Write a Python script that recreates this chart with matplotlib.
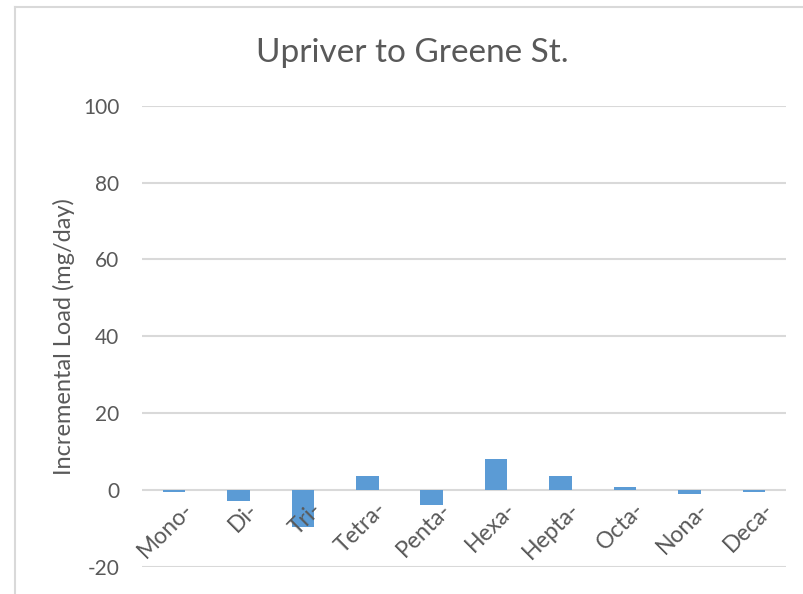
import matplotlib
matplotlib.use("Agg")
import matplotlib.pyplot as plt
from matplotlib.lines import Line2D

# ---------- data ----------
categories = ["Mono-", "Di-", "Tri-", "Tetra-", "Penta-", "Hexa-", "Hepta-", "Octa-", "Nona-", "Deca-"]
loads = [-0.6, -2.9, -9.6, 3.6, -3.9, 8.1, 3.6, 0.7, -1.0, -0.6]
y_ticks = [-20, 0, 20, 40, 60, 80, 100]

TEXT = "#595959"
GRID = "#D9D9D9"
BAR = "#5B9BD5"

plt.rcParams["font.family"] = ["Lato", "DejaVu Sans"]

fig = plt.figure(figsize=(8.04, 5.94), dpi=100)
ax = fig.add_axes([0.1763, 0.0455, 0.8013, 0.7765])

x = list(range(len(categories)))
ax.bar(x, loads, width=0.35, color=BAR, zorder=3)

ax.set_xlim(-0.5, len(categories) - 0.5)
ax.set_ylim(-20, 100)
ax.set_yticks(y_ticks)
ax.set_yticklabels([str(t) for t in y_ticks], fontsize=15, color=TEXT)
ax.tick_params(axis="y", length=0, pad=16)
ax.set_xticks([])
ax.grid(axis="y", color=GRID, linewidth=1.5, zorder=0)
for s in ax.spines.values():
    s.set_visible(False)

# category labels hang from the zero line, rotated like Excel does
for i, name in zip(x, categories):
    ax.annotate(name, xy=(i, 0), xytext=(6, -6), textcoords="offset points",
                rotation=45, ha="right", va="top", fontsize=16.5, color=TEXT,
                rotation_mode="anchor")

ax.set_ylabel("Incremental Load (mg/day)", fontsize=17, color=TEXT, labelpad=6)
fig.text(0.513, 0.91, "Upriver to Greene St.", ha="center", va="center",
         fontsize=24, color=TEXT)

# chart-area border (only top and left edges show in the crop)
fig.add_artist(Line2D([15 / 804, 15 / 804], [0, 1 - 7 / 594], color=GRID, linewidth=1.5))
fig.add_artist(Line2D([15 / 804, 1], [1 - 7 / 594, 1 - 7 / 594], color=GRID, linewidth=1.5))

fig.savefig("out.png", dpi=100)
